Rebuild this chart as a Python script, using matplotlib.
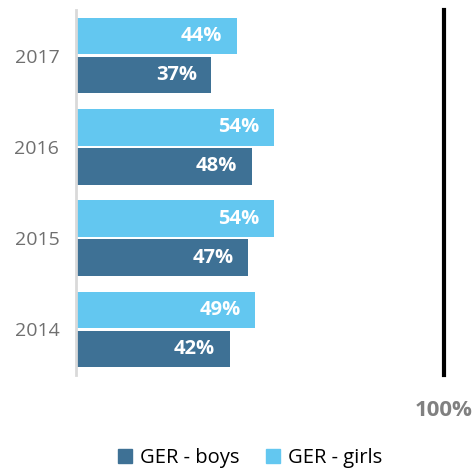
import matplotlib
matplotlib.use('Agg')
import matplotlib.pyplot as plt
import numpy as np
from matplotlib.patches import Patch

# data
years = ['2014', '2015', '2016', '2017']
boys = [42, 47, 48, 37]
girls = [49, 54, 54, 44]

c_boys = '#3e7195'
c_girls = '#63c7f0'
font = ['Open Sans', 'DejaVu Sans']

fig = plt.figure(figsize=(4.75, 4.7), dpi=100)
ax = fig.add_axes([76 / 475, 1 - 375 / 470, (442 - 76) / 475, 365 / 470])

y = np.arange(len(years))
off = 0.215
h = 0.40
ax.barh(y + off, girls, height=h, color=c_girls)
ax.barh(y - off, boys, height=h, color=c_boys)

for yi, b, g in zip(y, boys, girls):
    ax.text(g - 4, yi + off, f'{g}%', ha='right', va='center', color='white',
            fontsize=14.5, fontweight='bold', family=font)
    ax.text(b - 4, yi - off, f'{b}%', ha='right', va='center', color='white',
            fontsize=14.5, fontweight='bold', family=font)

# 100% reference line
ax.axvline(100.5, ymin=0, ymax=1.0, color='black', lw=3, clip_on=False)
ax.text(100.5, -0.5 - 35 / 91.25, '100%', ha='center', va='center', color='#808080',
        fontsize=16, fontweight='bold', family=font, clip_on=False)

ax.set_xlim(0, 100)
ax.set_ylim(-0.5, 3.5)
ax.set_yticks(y)
ax.set_yticklabels(years, color='#6f6f6f', fontsize=14, family=font)
ax.tick_params(axis='y', length=0, pad=12)
ax.set_xticks([])
for s in ['top', 'right', 'bottom']:
    ax.spines[s].set_visible(False)
ax.spines['left'].set_color('#d9d9d9')
ax.spines['left'].set_linewidth(2)

handles = [Patch(color=c_boys, label='GER - boys'), Patch(color=c_girls, label='GER - girls')]
fig.legend(handles=handles, loc='center', bbox_to_anchor=(0.527, 1 - 458 / 470), ncol=2,
           frameon=False, prop={'family': font, 'size': 14.5}, handlelength=0.7,
           handleheight=0.7, handletextpad=0.4, columnspacing=1.3)

fig.savefig('out.png', dpi=100)
